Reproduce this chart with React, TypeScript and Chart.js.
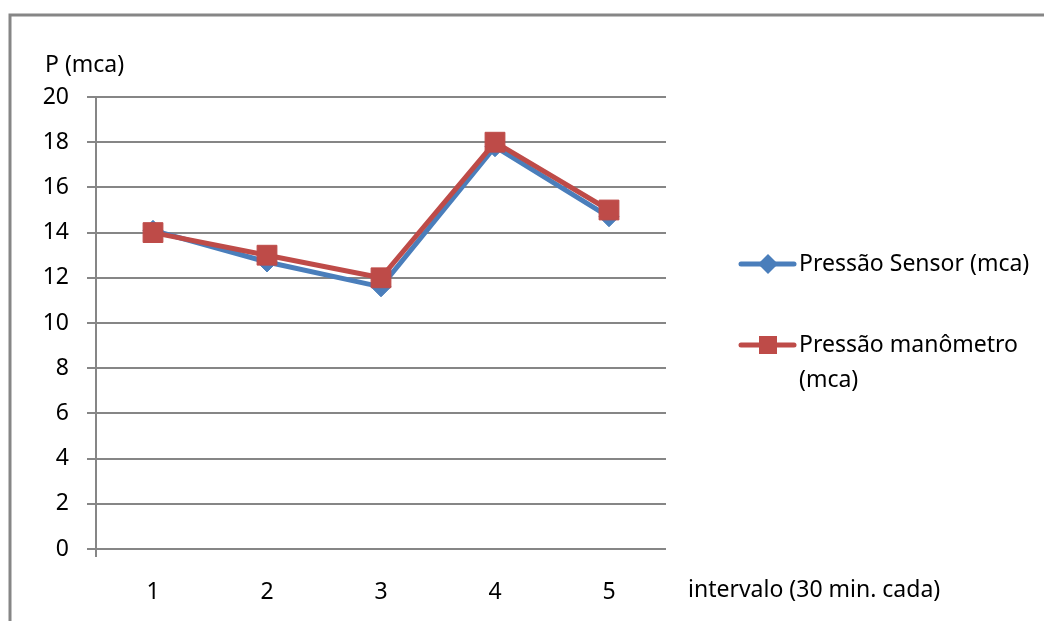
import React, { useEffect, useRef } from "react";
import { Chart, registerables } from "chart.js";

Chart.register(...registerables);

const categories = ["1", "2", "3", "4", "5"];
const sensorValues = [14.1, 12.7, 11.6, 17.8, 14.7];
const manometroValues = [14, 13, 12, 18, 15];
const seriesNames = ["Pressão Sensor (mca)", "Pressão manômetro (mca)"];
const legendLines = [["Pressão Sensor (mca)"], ["Pressão manômetro", "(mca)"]];
const yTitle = "P (mca)";
const xTitle = "intervalo (30 min. cada)";

const BLUE = "#4A7EBB";
const RED = "#BE4B48";
const GRID = "#868686";
const FONT = "'Noto Sans', sans-serif";
const FS = 23;

const decor = {
  id: "decor",
  afterDraw(chart: any) {
    const ctx = chart.ctx;
    const area = chart.chartArea;
    ctx.save();
    // outer border
    ctx.strokeStyle = GRID;
    ctx.lineWidth = 3;
    ctx.strokeRect(10, 15, 3000, 3000);
    // y axis extension below zero
    ctx.lineWidth = 2;
    ctx.beginPath();
    ctx.moveTo(area.left, area.bottom);
    ctx.lineTo(area.left, area.bottom + 8);
    ctx.stroke();
    // titles
    ctx.fillStyle = "#000";
    ctx.font = `${FS}px ${FONT}`;
    ctx.textBaseline = "middle";
    ctx.textAlign = "left";
    ctx.fillText(yTitle, 45, 65);
    ctx.fillText(xTitle, 688, 590);
    // legend
    const items = [
      { color: BLUE, style: "diamond", y: 264, lines: legendLines[0] },
      { color: RED, style: "square", y: 345, lines: legendLines[1] },
    ];
    items.forEach((it) => {
      ctx.strokeStyle = it.color;
      ctx.fillStyle = it.color;
      ctx.lineWidth = 5;
      ctx.lineCap = "round";
      ctx.beginPath();
      ctx.moveTo(741, it.y);
      ctx.lineTo(794, it.y);
      ctx.stroke();
      ctx.beginPath();
      if (it.style === "diamond") {
        ctx.moveTo(768, it.y - 10);
        ctx.lineTo(778, it.y);
        ctx.lineTo(768, it.y + 10);
        ctx.lineTo(758, it.y);
        ctx.closePath();
      } else {
        ctx.rect(759, it.y - 9, 18, 18);
      }
      ctx.fill();
      ctx.fillStyle = "#000";
      it.lines.forEach((t, i) => ctx.fillText(t, 799, it.y + i * 35));
    });
    ctx.restore();
  },
};

export default function App() {
  const ref = useRef<HTMLCanvasElement>(null);
  useEffect(() => {
    const chart = new Chart(ref.current!, {
      type: "line",
      data: {
        labels: categories,
        datasets: [
          {
            label: seriesNames[0],
            data: sensorValues,
            borderColor: BLUE,
            backgroundColor: BLUE,
            borderWidth: 5,
            pointStyle: "rectRot",
            pointRadius: 10,
            pointBorderWidth: 1,
            pointBackgroundColor: BLUE,
            pointBorderColor: BLUE,
            tension: 0,
            order: 1,
          },
          {
            label: seriesNames[1],
            data: manometroValues,
            borderColor: RED,
            backgroundColor: RED,
            borderWidth: 5,
            pointStyle: "rect",
            pointRadius: 14,
            pointBorderWidth: 1,
            pointBackgroundColor: RED,
            pointBorderColor: RED,
            tension: 0,
            order: 0,
          },
        ],
      },
      options: {
        responsive: false,
        animation: false,
        devicePixelRatio: 1,
        layout: { padding: { left: 0, top: 97, right: 378, bottom: 22 } },
        plugins: { legend: { display: false }, tooltip: { enabled: false } },
        scales: {
          x: {
            offset: true,
            grid: { display: false, drawTicks: false },
            border: { display: false },
            ticks: { color: "#000", font: { family: FONT, size: FS }, padding: 30, maxRotation: 0 },
            afterFit: (s: any) => {
              s.height = 50;
            },
          },
          y: {
            min: 0,
            max: 20,
            ticks: { stepSize: 2, color: "#000", font: { family: FONT, size: FS }, padding: 18 },
            grid: { color: GRID, lineWidth: 2, tickLength: 9 },
            border: { color: GRID, width: 2 },
            afterFit: (s: any) => {
              s.width = 96;
            },
          },
        },
      },
      plugins: [decor],
    });
    return () => chart.destroy();
  }, []);
  return (
    <div style={{ position: "fixed", left: 0, top: 0, width: 1044, height: 621, background: "#fff" }}>
      <canvas ref={ref} width={1044} height={621} style={{ width: 1044, height: 621, display: "block" }} />
    </div>
  );
}
